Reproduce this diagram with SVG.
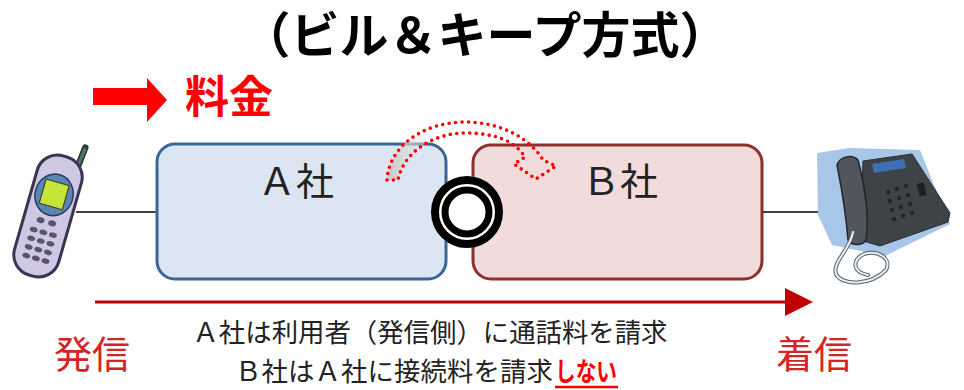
<svg xmlns="http://www.w3.org/2000/svg" width="964" height="390" viewBox="0 0 964 390">
  <style>
    .jp { font-family: "Noto Sans CJK JP", "Liberation Sans", sans-serif; }
    .title { font-size: 49px; font-weight: bold; fill: #000; }
    .co { font-size: 38px; fill: #222; }
    .note { font-size: 26.4px; fill: #222; }
    .end { font-size: 38px; fill: #d42424; }
    .wire { stroke: #000; stroke-width: 1.6; fill: none; }
  </style>
  <defs>
    <linearGradient id="arcFill" gradientUnits="userSpaceOnUse" x1="388" y1="0" x2="450" y2="0">
      <stop offset="0" stop-color="#c8c8c8"/>
      <stop offset="1" stop-color="#ffffff" stop-opacity="0"/>
    </linearGradient>
  </defs>
  <rect width="964" height="390" fill="#fff"/>

  <!-- heading -->
  <text class="jp title" x="485" y="53" text-anchor="middle">（ビル＆キープ方式）</text>

  <!-- legend: charge flow -->
  <g id="legend">
    <polygon points="93,88 147,88 147,78 167,100 147,122 147,105 93,105" fill="#ff0000"/>
    <text class="jp" x="185" y="113" font-size="44" font-weight="bold" fill="#ff0000">料金</text>
  </g>

  <!-- connectors -->
  <g id="connectors">
    <line class="wire" x1="76" y1="212" x2="157" y2="212"/>
    <line class="wire" x1="762" y1="212" x2="840" y2="212"/>
    <line x1="95" y1="302" x2="790" y2="302" stroke="#c00000" stroke-width="3"/>
    <polygon points="785,288 813,302 785,316" fill="#c00000"/>
  </g>

  <!-- carrier A -->
  <g id="carrierA">
    <rect x="157" y="144" width="289" height="135" rx="18" fill="#dce6f2" stroke="#3a6595" stroke-width="3"/>
    <text class="jp co" x="296" y="195" text-anchor="middle">Ａ社</text>
  </g>

  <!-- carrier B -->
  <g id="carrierB">
    <rect x="473" y="145" width="289" height="134" rx="18" fill="#f2dcdb" stroke="#8c2f2d" stroke-width="3"/>
    <text class="jp co" x="620" y="195" text-anchor="middle">Ｂ社</text>
  </g>

  <!-- interconnection point -->
  <g id="interconnect">
    <circle cx="467" cy="212" r="36" fill="#fff"/>
    <circle cx="467" cy="212" r="32" fill="none" stroke="#000" stroke-width="8"/>
    <circle cx="467" cy="212" r="22" fill="none" stroke="#000" stroke-width="7"/>
  </g>

  <!-- dotted curved arrow (no settlement) -->
  <g id="keepArrow">
    <path d="M387,180 C389,145 425,122 465,122 C500,122 530,138 543,160 L556,166 L536,179 L514,164 L525,157 C515,141 495,133 465,133 C436,133 404,150 398,180 Z"
          fill="url(#arcFill)" stroke="#ff0000" stroke-width="3.6" stroke-linecap="round" stroke-dasharray="0 6.5" stroke-linejoin="round"/>
  </g>

  <!-- mobile handset -->
  <g id="mobile" transform="translate(48,216) rotate(16)">
    <line x1="15" y1="-55" x2="17" y2="-76" stroke="#2f3b36" stroke-width="6.5" stroke-linecap="round"/>
    <line x1="15" y1="-57" x2="17" y2="-74" stroke="#4f7a68" stroke-width="3" stroke-linecap="round"/>
    <rect x="-23" y="-62" width="46" height="124" rx="21" fill="#cfc8e4" stroke="#3a3450" stroke-width="3"/>
    <ellipse cx="0" cy="-22" rx="19" ry="21" fill="#5b85b8" stroke="#2b3a5a" stroke-width="1.5"/>
    <rect x="-12" y="-35" width="24" height="25" fill="#c6e43a" stroke="#3d4a20" stroke-width="1.2"/>
    <g fill="#5a5270">
      <ellipse cx="-6" cy="6" rx="4" ry="3"/><ellipse cx="6" cy="6" rx="4" ry="3"/>
      <ellipse cx="-10" cy="17" rx="4" ry="2.6"/><ellipse cx="0" cy="17" rx="4" ry="2.6"/><ellipse cx="10" cy="17" rx="4" ry="2.6"/>
      <ellipse cx="-10" cy="26" rx="4" ry="2.6"/><ellipse cx="0" cy="26" rx="4" ry="2.6"/><ellipse cx="10" cy="26" rx="4" ry="2.6"/>
      <ellipse cx="-10" cy="35" rx="4" ry="2.6"/><ellipse cx="0" cy="35" rx="4" ry="2.6"/><ellipse cx="10" cy="35" rx="4" ry="2.6"/>
      <ellipse cx="-10" cy="44" rx="4" ry="2.6"/><ellipse cx="0" cy="44" rx="4" ry="2.6"/><ellipse cx="10" cy="44" rx="4" ry="2.6"/>
    </g>
  </g>

  <!-- desk telephone -->
  <g id="deskphone">
    <polygon points="817,153 850,148 920,150 940,200 950,224 885,256 832,245 818,215" fill="#a8c6e8"/>
    <polygon points="863,161 912,154 950,213 948,222 880,246 860,240" fill="#3e4348" stroke="#2a2d30" stroke-width="1"/>
    <polygon points="872,164 904,159 906,168 874,173" fill="#3f6fb4"/>
    <g fill="#23272a">
      <circle cx="888" cy="192" r="2.2"/><circle cx="897" cy="189" r="2.2"/><circle cx="906" cy="186" r="2.2"/>
      <circle cx="890" cy="201" r="2.2"/><circle cx="899" cy="198" r="2.2"/><circle cx="908" cy="195" r="2.2"/>
      <circle cx="892" cy="210" r="2.2"/><circle cx="901" cy="207" r="2.2"/><circle cx="910" cy="204" r="2.2"/>
      <circle cx="894" cy="219" r="2.2"/><circle cx="903" cy="216" r="2.2"/><circle cx="912" cy="213" r="2.2"/>
    </g>
    <rect x="918" y="183" width="7" height="13" fill="#1e2124" transform="rotate(-15 921 189)"/>
    <path d="M837,165 C840,156 852,154 858,160 C866,190 869,220 866,240 C862,246 852,246 848,240 C846,215 842,190 837,165 Z" fill="#50565c" stroke="#23272a" stroke-width="1.5"/>
    <path d="M853,232 C850,250 832,262 836,274 C842,286 870,286 886,270 C892,258 878,250 864,254 C852,260 852,272 868,275"
          fill="none" stroke="#55606a" stroke-width="4" stroke-linecap="round"/>
    <path d="M853,232 C850,250 832,262 836,274 C842,286 870,286 886,270 C892,258 878,250 864,254 C852,260 852,272 868,275"
          fill="none" stroke="#e8eef4" stroke-width="2" stroke-linecap="round"/>
  </g>

  <!-- caller / callee labels -->
  <text class="jp end" x="54" y="368">発信</text>
  <text class="jp end" x="776" y="368">着信</text>

  <!-- explanatory notes -->
  <g id="notes">
    <text class="jp note" x="430" y="342" text-anchor="middle">Ａ社は利用者（発信側）に通話料を請求</text>
    <text class="jp note" x="235" y="381" textLength="318" lengthAdjust="spacing">Ｂ社はＡ社に接続料を請求</text>
    <text class="jp note" x="555" y="381" fill="#ff0000" font-weight="bold" textLength="62" lengthAdjust="spacingAndGlyphs" style="fill:#ff0000">しない</text>
    <line x1="555" y1="387" x2="618" y2="387" stroke="#ff0000" stroke-width="2.5"/>
  </g>
</svg>
